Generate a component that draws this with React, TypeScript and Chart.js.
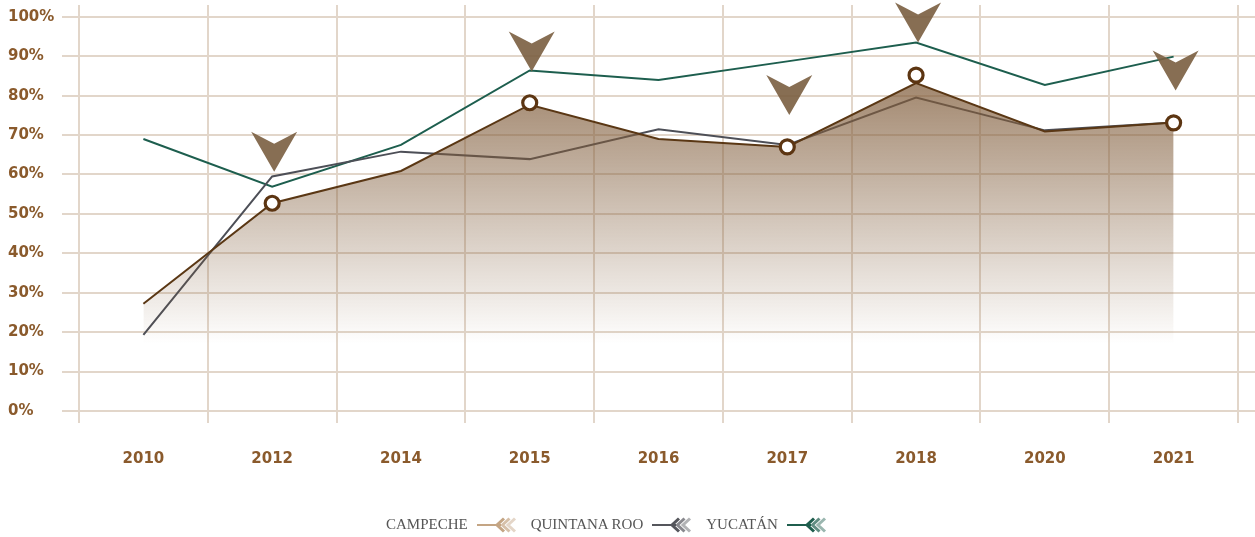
import React, { useEffect, useRef } from "react";
import { Chart, registerables } from "chart.js";

Chart.register(...registerables);

const years = ["2010", "2012", "2014", "2015", "2016", "2017", "2018", "2020", "2021"];
const campeche = [27.2, 52.7, 60.9, 77.7, 69.0, 67.0, 83.2, 70.9, 73.2];
const quintanaRoo = [19.3, 59.5, 65.8, 63.9, 71.5, 67.5, 79.5, 71.2, 73.2];
const yucatan = [69.0, 56.9, 67.5, 86.4, 84.0, 88.7, 93.5, 82.7, 89.9];
const highlightCircles = [null, 52.7, null, 78.2, null, 67.0, 85.2, null, 73.1];
const arrowTips = [null, 60.7, null, 86.1, null, 75.1, 93.5, null, 81.3];
const yTicks = [0, 10, 20, 30, 40, 50, 60, 70, 80, 90, 100];

const legendItems = [
  { label: "CAMPECHE", color: "#c4a584" },
  { label: "QUINTANA ROO", color: "#55565c" },
  { label: "YUCATÁN", color: "#1f5e4e" },
];

const GRID = "#e2d6ca";
const LABEL = "#8a5a2c";

const hGridPlugin = {
  id: "hGrid",
  beforeDatasetsDraw(chart: any) {
    const { ctx, scales } = chart;
    const y = scales.y;
    ctx.save();
    ctx.strokeStyle = GRID;
    ctx.lineWidth = 2;
    yTicks.forEach((v) => {
      const py = Math.round(y.getPixelForValue(v));
      ctx.beginPath();
      ctx.moveTo(62, py);
      ctx.lineTo(chart.width, py);
      ctx.stroke();
    });
    ctx.restore();
  },
};

const arrowPlugin = {
  id: "arrows",
  afterDatasetsDraw(chart: any) {
    const { ctx, scales } = chart;
    ctx.save();
    ctx.fillStyle = "rgba(122, 94, 64, 0.9)";
    arrowTips.forEach((v, i) => {
      if (v == null) return;
      const x = scales.x.getPixelForValue(i) + 2;
      const y = scales.y.getPixelForValue(v);
      ctx.beginPath();
      ctx.moveTo(x, y);
      ctx.lineTo(x - 23, y - 40);
      ctx.lineTo(x, y - 28);
      ctx.lineTo(x + 23, y - 40);
      ctx.closePath();
      ctx.fill();
    });
    ctx.restore();
  },
};

function LegendIcon({ color }: { color: string }) {
  return (
    <svg width="40" height="16" viewBox="0 0 40 16" style={{ display: "block" }}>
      <line x1="0" y1="8" x2="24" y2="8" stroke={color} strokeWidth="2" />
      <polyline points="27,1.5 20,8 27,14.5" fill="none" stroke={color} strokeWidth="3" />
      <polyline points="32.5,1.5 25.5,8 32.5,14.5" fill="none" stroke={color} strokeWidth="3" opacity="0.7" />
      <polyline points="38,1.5 31,8 38,14.5" fill="none" stroke={color} strokeWidth="3" opacity="0.45" />
    </svg>
  );
}

export default function App() {
  const ref = useRef<HTMLCanvasElement | null>(null);

  useEffect(() => {
    if (!ref.current) return;
    const chart = new Chart(ref.current, {
      type: "line",
      data: {
        labels: years,
        datasets: [
          {
            label: "Highlights",
            data: highlightCircles,
            showLine: false,
            pointRadius: 7,
            pointBorderWidth: 3.2,
            pointBackgroundColor: "#ffffff",
            pointBorderColor: "#5c3512",
            borderColor: "#5c3512",
          },
          {
            label: "CAMPECHE",
            data: campeche,
            borderColor: "#5a3714",
            borderWidth: 2,
            pointRadius: 0,
            tension: 0,
            fill: "origin",
            backgroundColor: (c: any) => {
              const ch = c.chart;
              const y = ch.scales && ch.scales.y;
              if (!y || !ch.chartArea) return "rgba(130,95,60,0.5)";
              const g = ch.ctx.createLinearGradient(0, y.getPixelForValue(86), 0, y.getPixelForValue(17));
              g.addColorStop(0, "rgba(128, 92, 58, 0.76)");
              g.addColorStop(0.45, "rgba(128, 92, 58, 0.42)");
              g.addColorStop(1, "rgba(128, 92, 58, 0)");
              return g;
            },
          },
          {
            label: "QUINTANA ROO",
            data: quintanaRoo,
            borderColor: "#4d4f57",
            borderWidth: 2,
            pointRadius: 0,
            tension: 0,
            fill: false,
          },
          {
            label: "YUCATÁN",
            data: yucatan,
            borderColor: "#1d5e4e",
            borderWidth: 2,
            pointRadius: 0,
            tension: 0,
            fill: false,
          },
        ],
      },
      options: {
        animation: false,
        responsive: true,
        maintainAspectRatio: false,
        layout: { autoPadding: false, padding: { left: 8, right: 17, top: 5, bottom: 0 } },
        plugins: {
          legend: { display: false },
          tooltip: { enabled: false },
        },
        scales: {
          x: {
            offset: true,
            grid: { offset: true, color: GRID, lineWidth: 2, tickLength: 12, drawTicks: true },
            border: { display: false },
            ticks: {
              color: LABEL,
              font: { family: "'DejaVu Sans', sans-serif", size: 15, weight: "bold" },
              padding: 27,
              maxRotation: 0,
            },
            afterFit: (s: any) => {
              s.height = 126;
              s.paddingLeft = 0;
              s.paddingRight = 0;
            },
          },
          y: {
            min: 0,
            max: 103,
            afterBuildTicks: (s: any) => {
              s.ticks = yTicks.map((v) => ({ value: v }));
            },
            grid: { display: false },
            border: { display: false },
            ticks: {
              crossAlign: "far",
              color: LABEL,
              font: { family: "'DejaVu Sans', sans-serif", size: 15, weight: "bold" },
              callback: (v: any) => v + "%",
            },
            afterFit: (s: any) => {
              s.width = 71;
              s.paddingTop = 0;
              s.paddingBottom = 0;
            },
          },
        },
      },
      plugins: [hGridPlugin, arrowPlugin],
    });
    return () => chart.destroy();
  }, []);

  return (
    <div style={{ position: "absolute", left: 0, top: 0, width: 1255, height: 537 }}>
      <canvas ref={ref} />
      <div
        style={{
          position: "absolute",
          left: 386,
          top: 516,
          display: "flex",
          alignItems: "center",
          fontFamily: "'Liberation Serif', serif",
          fontSize: 15,
          color: "#555555",
          whiteSpace: "nowrap",
        }}
      >
        {legendItems.map((it) => (
          <div key={it.label} style={{ display: "flex", alignItems: "center", marginRight: 14 }}>
            <span style={{ marginRight: 9 }}>{it.label}</span>
            <LegendIcon color={it.color} />
          </div>
        ))}
      </div>
    </div>
  );
}
